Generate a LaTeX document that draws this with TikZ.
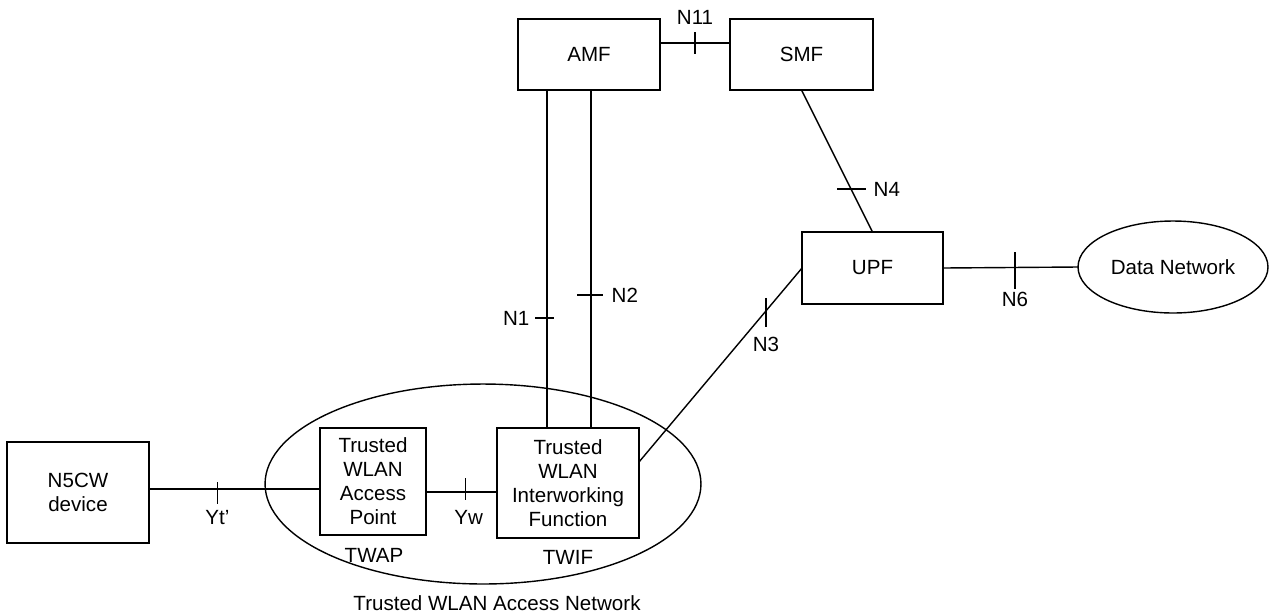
\documentclass[tikz,border=0pt]{standalone}
\usepackage{fontspec}
\setmainfont{Liberation Sans}
\usetikzlibrary{calc,shapes.geometric}
\tikzset{
	nf/.style={draw, line width=0.8pt, inner sep=0pt, outer sep=0pt, align=center},
	lbl/.style={inner sep=0pt},
	tick/.style={line width=0.8pt}
}

\begin{document}
\begin{tikzpicture}[x=0.02cm, y=-0.02cm, line width=0.8pt,
		every node/.append style={font=\fontsize{11.7}{13.7}\selectfont}]
	\useasboundingbox (0,0) rectangle (1270,613);

	\node[nf, ellipse, minimum width=8.72cm, minimum height=4cm] (twan) at (483,484) {};
	\node[nf, minimum width=2.84cm, minimum height=2.02cm] (n5cw) at (78,492.5) {N5CW\\device};
	\node[nf, minimum width=2.12cm, minimum height=2.14cm] (twap) at (373,481.5) {Trusted\\WLAN\\Access\\Point};
	\node[nf, minimum width=2.84cm, minimum height=2.2cm] (twif) at (568,483) {Trusted\\WLAN\\Interworking\\Function};
	\node[nf, minimum width=2.84cm, minimum height=1.42cm] (amf) at (589,54.5) {AMF};
	\node[nf, minimum width=2.86cm, minimum height=1.42cm] (smf) at (801.5,54.5) {SMF};
	\node[nf, minimum width=2.82cm, minimum height=1.44cm] (upf) at (872.5,268) {UPF};
	\node[nf, ellipse, minimum width=3.8cm, minimum height=1.84cm] (dn) at (1173,267) {Data Network};

	\node[lbl] at (374,555) {TWAP};
	\node[lbl] at (568,557) {TWIF};
	\node[lbl] at (497,603) {Trusted WLAN Access Network};

	\coordinate (n11a) at ($(amf.east)+(0,-11.5)$);
	\draw (n11a) -- coordinate (n11) (n11a -| smf.west);
	\draw[tick] ($(n11)+(0,-11)$) -- ($(n11)+(0,11)$);
	\node[lbl] at ($(n11)+(0,-26)$) {N11};

	\coordinate (n1a) at ($(amf.south)+(-42,0)$);
	\draw (n1a) -- coordinate[pos=0.675] (n1) (n1a |- twif.north);
	\draw[tick] ($(n1)+(-12,0)$) -- ($(n1)+(7,0)$);
	\node[lbl, anchor=east] at ($(n1)+(-17,0)$) {N1};

	\coordinate (n2a) at ($(amf.south)+(2,0)$);
	\draw (n2a) -- coordinate[pos=0.607] (n2) (n2a |- twif.north);
	\draw[tick] ($(n2)+(-14,0)$) -- ($(n2)+(12,0)$);
	\node[lbl, anchor=west] at ($(n2)+(20,0)$) {N2};

	\draw (smf.south) -- coordinate[pos=0.697] (n4) (upf.north);
	\draw[tick] ($(n4)+(-14,0)$) -- ($(n4)+(15,0)$);
	\node[lbl, anchor=west] at ($(n4)+(22,0)$) {N4};

	\draw (upf.west) -- coordinate[pos=0.221] (n3) ($(twif.east)+(0,-21)$);
	\draw[tick] ($(n3)+(0,-13)$) -- ($(n3)+(0,16)$);
	\node[lbl] at ($(n3)+(0,34)$) {N3};

	\draw (upf.east) -- coordinate[pos=0.533] (n6) (dn.west);
	\draw[tick] ($(n6)+(0,-15)$) -- ($(n6)+(0,22)$);
	\node[lbl] at ($(n6)+(0,32)$) {N6};

	\coordinate (yta) at ($(n5cw.east)+(0,-3.5)$);
	\draw (yta) -- coordinate[pos=0.4] (yt) (yta -| twap.west);
	\draw[tick] ($(yt)+(0,-7)$) -- ($(yt)+(0,15)$);
	\node[lbl] at ($(yt)+(0,28)$) {Yt’};

	\coordinate (ywa) at ($(twap.east)+(0,10.5)$);
	\draw (ywa) -- coordinate[pos=0.56] (yw) (ywa -| twif.west);
	\draw[tick] ($(yw)+(0,-14)$) -- ($(yw)+(0,8)$);
	\node[lbl] at ($(yw)+(3,25)$) {Yw};
\end{tikzpicture}
\end{document}
